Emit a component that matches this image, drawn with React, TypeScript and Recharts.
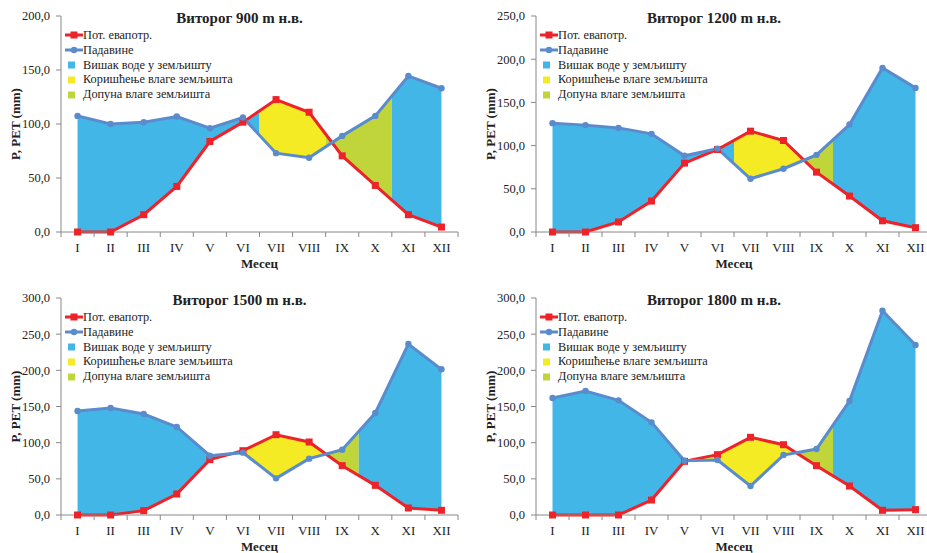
import { Area, ComposedChart, Line, XAxis, YAxis } from "recharts";

const MONTHS = ["I", "II", "III", "IV", "V", "VI", "VII", "VIII", "IX", "X", "XI", "XII"];

// Виторог 900 m
const PET_900 = [0, 0, 16, 42.2, 83.8, 101.7, 122.6, 110.9, 70.5, 43.1, 16, 4.6];
const P_900 = [107.5, 100.1, 101.7, 106.9, 96.1, 106, 73, 68.7, 89, 107.5, 144.5, 133.1];
const ZONES_900 = [1, 6.5, 8.5, 10.5, 12];

// Виторог 1200 m
const PET_1200 = [0, 0, 11.6, 35.8, 79.7, 95.5, 116.7, 105.9, 69.3, 41.6, 13, 5];
const P_1200 = [126, 123.7, 120.5, 113.6, 88.2, 96.5, 61.6, 73.2, 89.3, 124.4, 189.9, 166.8];
const ZONES_1200 = [1, 6.5, 8.5, 9.5, 12];

// Виторог 1500 m
const PET_1500 = [0, 0, 6, 29, 76.5, 88.9, 111, 100.9, 68.2, 41, 9.7, 6.5];
const P_1500 = [143.8, 147.9, 139.6, 121.7, 82, 86.2, 50.7, 77.9, 90.3, 141, 236.4, 201.4];
const ZONES_1500 = [1, 5, 8.5, 9.5, 12];

// Виторог 1800 m
const PET_1800 = [0, 0, 0, 20.7, 74.2, 83.4, 107.4, 97.2, 68.2, 40.1, 6.5, 7.4];
const P_1800 = [161.8, 171.4, 158.5, 128.1, 75.1, 76, 40.1, 82.9, 91.2, 157.6, 282.5, 235];
const ZONES_1800 = [1, 5, 8.5, 9.5, 12];

const TICKS_200 = [0, 50, 100, 150, 200];
const TICKS_250 = [0, 50, 100, 150, 200, 250];
const TICKS_300 = [0, 50, 100, 150, 200, 250, 300];

const ZONE_KEYS = ["surplusA", "usage", "recharge", "surplusB"];

const RED = "#EE2229";
const BLUE_LINE = "#5A8CCD";
const SKY = "#42B6E6";
const YELLOW = "#F4EB24";
const GREEN = "#BFD53A";
const ZONE_COLORS = [SKY, YELLOW, GREEN, SKY];
const AXIS = "#888";
const TEXT = "#222";
const FONT = "'Liberation Serif', 'Times New Roman', serif";

const Y_WIDTH = 45;
const X_HEIGHT = 40;

// value of a polyline at a (possibly fractional) month position
function at(arr: number[], x: number) {
  const i = Math.floor(x) - 1;
  if (i >= arr.length - 1) return arr[arr.length - 1];
  const t = x - (i + 1);
  return arr[i] + (arr[i + 1] - arr[i]) * t;
}

function buildRows(p: number[], pet: number[], zones: number[]) {
  const xs = new Set<number>();
  MONTHS.forEach((_, i) => xs.add(i + 1));
  zones.forEach((z) => xs.add(z));
  for (let i = 0; i < p.length - 1; i++) {
    const d0 = p[i] - pet[i];
    const d1 = p[i + 1] - pet[i + 1];
    if (d0 * d1 < 0) xs.add(i + 1 + d0 / (d0 - d1));
  }
  return [...xs]
    .sort((a, b) => a - b)
    .map((x) => {
      const month = Number.isInteger(x);
      const a = at(p, x);
      const b = at(pet, x);
      const row: Record<string, any> = {
        x,
        p: month ? p[x - 1] : null,
        pet: month ? pet[x - 1] : null,
      };
      ZONE_KEYS.forEach((k, z) => {
        row[k] = x >= zones[z] && x <= zones[z + 1] ? [Math.min(a, b), Math.max(a, b)] : null;
      });
      return row;
    });
}

const fmt = (v: number) => v.toFixed(1).replace(".", ",");

function SquareDot(props: any) {
  const { cx, cy } = props;
  if (cx == null || cy == null) return <g />;
  return <rect x={cx - 3.5} y={cy - 3.5} width={7} height={7} fill={RED} />;
}

function RoundDot(props: any) {
  const { cx, cy } = props;
  if (cx == null || cy == null) return <g />;
  return <circle cx={cx} cy={cy} r={3.2} fill={BLUE_LINE} />;
}

const LEGEND_ITEMS = [
  { label: "Пот. евапотр.", kind: "line", color: RED },
  { label: "Падавине", kind: "line", color: BLUE_LINE },
  { label: "Вишак воде у земљишту", kind: "box", color: SKY },
  { label: "Коришћење влаге земљишта", kind: "box", color: YELLOW },
  { label: "Допуна влаге земљишта", kind: "box", color: GREEN },
];

function LegendBox({ left, top }: { left: number; top: number }) {
  return (
    <div
      style={{
        position: "absolute",
        left,
        top,
        zIndex: 2,
        fontFamily: FONT,
        fontSize: 12.3,
        color: TEXT,
        lineHeight: "14.8px",
      }}
    >
      {LEGEND_ITEMS.map((it) => (
        <div key={it.label} style={{ display: "flex", alignItems: "center", height: 14.8 }}>
          <svg width={18} height={14} style={{ flex: "none" }}>
            {it.kind === "line" ? (
              <g>
                <line x1={0} x2={18} y1={7} y2={7} stroke={it.color} strokeWidth={3} />
                {it.color === RED ? (
                  <rect x={5.5} y={3.5} width={7} height={7} fill={RED} />
                ) : (
                  <circle cx={9} cy={7} r={3.2} fill={BLUE_LINE} />
                )}
              </g>
            ) : (
              <rect x={3} y={3.5} width={7} height={7} fill={it.color} />
            )}
          </svg>
          <span style={{ marginLeft: 0, whiteSpace: "nowrap" }}>{it.label}</span>
        </div>
      ))}
    </div>
  );
}

type ChartProps = {
  title: string;
  p: number[];
  pet: number[];
  zones: number[];
  yTicks: number[];
  left: number;
  top: number;
  width: number;
  height: number;
  marginLeft: number;
};

function BalanceChart({ title, p, pet, zones, yTicks, left, top, width, height, marginLeft }: ChartProps) {
  const rows = buildRows(p, pet, zones);
  const margin = { top: 16, right: 7, left: marginLeft, bottom: 4 };
  const plotLeft = margin.left + Y_WIDTH;
  const plotWidth = width - plotLeft - margin.right;
  const step = plotWidth / MONTHS.length;

  const monthTick = (props: any) => {
    const { x, y, payload } = props;
    const axisY = y - 10;
    const last = payload.value === MONTHS.length;
    return (
      <g>
        <line x1={x - step / 2} x2={x - step / 2} y1={axisY} y2={axisY + 5} stroke={AXIS} />
        {last && <line x1={x + step / 2} x2={x + step / 2} y1={axisY} y2={axisY + 5} stroke={AXIS} />}
        <text x={x} y={axisY + 20} textAnchor="middle" fill={TEXT} fontSize={13} fontFamily={FONT}>
          {MONTHS[payload.value - 1]}
        </text>
      </g>
    );
  };

  return (
    <div style={{ position: "absolute", left, top, width, height }}>
      <div
        style={{
          position: "absolute",
          left: plotLeft + plotWidth / 2 - 20 - 150,
          width: 300,
          top: 9,
          textAlign: "center",
          fontFamily: FONT,
          fontWeight: 700,
          fontSize: 15,
          color: TEXT,
          lineHeight: "18px",
          zIndex: 2,
        }}
      >
        {title}
      </div>
      <LegendBox left={plotLeft + 4} top={margin.top + 12} />
      <ComposedChart width={width} height={height} data={rows} margin={margin}>
        <XAxis
          dataKey="x"
          type="number"
          domain={[0.5, 12.5]}
          ticks={MONTHS.map((_, i) => i + 1)}
          interval={0}
          height={X_HEIGHT}
          tickLine={false}
          tickSize={0}
          tickMargin={10}
          tick={monthTick}
          axisLine={{ stroke: AXIS }}
          label={{
            value: "Месец",
            position: "insideBottom",
            offset: 4,
            style: { fontFamily: FONT, fontWeight: 700, fontSize: 13, fill: TEXT },
          }}
        />
        <YAxis
          type="number"
          domain={[0, yTicks[yTicks.length - 1]]}
          ticks={yTicks}
          interval={0}
          width={Y_WIDTH}
          tickFormatter={fmt}
          tickSize={5}
          tickMargin={6}
          tickLine={{ stroke: AXIS }}
          axisLine={{ stroke: AXIS }}
          tick={{ fontFamily: FONT, fontSize: 12.5, fill: TEXT }}
          label={{
            value: "P, PET (mm)",
            angle: -90,
            position: "insideLeft",
            offset: -1,
            style: { fontFamily: FONT, fontWeight: 700, fontSize: 13, fill: TEXT, textAnchor: "middle" },
          }}
        />
        {ZONE_KEYS.map((k, i) => (
          <Area
            key={k}
            dataKey={k}
            type="linear"
            stroke="none"
            fill={ZONE_COLORS[i]}
            fillOpacity={1}
            isAnimationActive={false}
            activeDot={false}
            legendType="none"
          />
        ))}
        <Line
          dataKey="pet"
          type="linear"
          stroke={RED}
          strokeWidth={3}
          connectNulls
          dot={<SquareDot />}
          activeDot={false}
          isAnimationActive={false}
        />
        <Line
          dataKey="p"
          type="linear"
          stroke={BLUE_LINE}
          strokeWidth={3}
          connectNulls
          dot={<RoundDot />}
          activeDot={false}
          isAnimationActive={false}
        />
      </ComposedChart>
    </div>
  );
}

export default function App() {
  return (
    <div
      style={{
        position: "absolute",
        left: 0,
        top: 0,
        width: 927,
        height: 553,
        overflow: "hidden",
        background: "#fff",
      }}
    >
      <BalanceChart title="Виторог 900 m н.в." p={P_900} pet={PET_900} zones={ZONES_900} yTicks={TICKS_200}
        left={0} top={0} width={465} height={276} marginLeft={16} />
      <BalanceChart title="Виторог 1200 m н.в." p={P_1200} pet={PET_1200} zones={ZONES_1200} yTicks={TICKS_250}
        left={465} top={0} width={474} height={276} marginLeft={26} />
      <BalanceChart title="Виторог 1500 m н.в." p={P_1500} pet={PET_1500} zones={ZONES_1500} yTicks={TICKS_300}
        left={0} top={282} width={465} height={277} marginLeft={16} />
      <BalanceChart title="Виторог 1800 m н.в." p={P_1800} pet={PET_1800} zones={ZONES_1800} yTicks={TICKS_300}
        left={465} top={282} width={474} height={277} marginLeft={26} />
    </div>
  );
}
